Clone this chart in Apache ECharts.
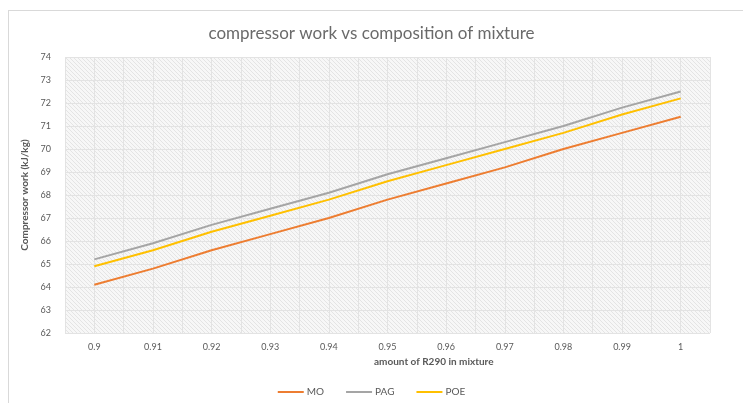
<!DOCTYPE html>
<html>
<head>
<meta charset="utf-8">
<script src="https://cdn.jsdelivr.net/npm/echarts@6/dist/echarts.min.js"></script>
<style>
html,body{margin:0;padding:0;background:#fff;}
#frame{position:absolute;left:8px;top:10px;width:760px;height:420px;border:1px solid #d9d9d9;box-sizing:border-box;}
#chart{position:absolute;left:0;top:0;width:743px;height:403px;}
</style>
</head>
<body>
<div id="frame"></div>
<div id="chart"></div>
<script>
const categories = ['0.9','0.91','0.92','0.93','0.94','0.95','0.96','0.97','0.98','0.99','1'];
const moValues  = [64.1, 64.8, 65.6, 66.3, 67.0, 67.8, 68.5, 69.2, 70.0, 70.7, 71.4];
const pagValues = [65.2, 65.9, 66.7, 67.4, 68.1, 68.9, 69.6, 70.3, 71.0, 71.8, 72.5];
const poeValues = [64.9, 65.6, 66.4, 67.1, 67.8, 68.6, 69.3, 70.0, 70.7, 71.5, 72.2];
const seriesNames = ['MO','PAG','POE'];
const seriesColors = ['#ED7D31','#A5A5A5','#FFC000'];

// hatch pattern
const pc = document.createElement('canvas');
pc.width = 4; pc.height = 4;
const pctx = pc.getContext('2d');
pctx.fillStyle = '#f7f7f7';
pctx.fillRect(0,0,4,4);
pctx.fillStyle = '#e4e4e4';
for (let i=0;i<4;i++){ pctx.fillRect(i,i,1,1); }

// half-step boundaries for vertical gridlines
const halfCats = [];
categories.forEach(c => { halfCats.push(c + 'a'); halfCats.push(c + 'b'); });

const chart = echarts.init(document.getElementById('chart'));
const font = 'Lato, "Open Sans", sans-serif';
chart.setOption({
  animation: false,
  textStyle: {fontFamily: font},
  title: {
    text: 'compressor work vs composition of mixture',
    left: 'center', top: 20,
    textStyle: {fontFamily: font, fontSize: 17, fontWeight: 'normal', color: '#6a6a6a'}
  },
  grid: {
    left: 65, right: 33, top: 57, bottom: 70,
    show: true, borderWidth: 0,
    backgroundColor: {image: pc, repeat: 'repeat'}
  },
  legend: {
    bottom: 1, left: 'center',
    itemWidth: 26, itemHeight: 2, itemGap: 22,
    icon: 'rect',
    textStyle: {fontFamily: font, fontSize: 10, color: '#595959', padding: [0,0,0,-2]},
    data: seriesNames
  },
  xAxis: [{
    type: 'category', data: categories, boundaryGap: true,
    axisLine: {show: false}, axisTick: {show: false},
    axisLabel: {fontSize: 9, color: '#595959', margin: 10},
    splitLine: {show: false}
  },{
    type: 'category', data: halfCats, boundaryGap: true, show: true,
    position: 'bottom',
    axisLine: {show: false}, axisTick: {show: false}, axisLabel: {show: false},
    splitLine: {show: true, interval: 0, lineStyle: {color: '#e3e3e3', width: 1}}
  }],
  yAxis: {
    type: 'value', min: 62, max: 74, interval: 1,
    name: 'Compressor work (kJ/kg)', nameLocation: 'middle', nameGap: 19,
    nameTextStyle: {fontFamily: font, fontSize: 10, fontWeight: 'bold', color: '#595959'},
    axisLine: {show: false}, axisTick: {show: false},
    axisLabel: {fontSize: 9, color: '#595959', margin: 14},
    splitLine: {lineStyle: {color: '#e3e3e3', width: 1}}
  },
  graphic: [{
    type: 'text', left: 374, top: 357,
    style: {text: 'amount of R290 in mixture', font: 'bold 10px ' + font, fill: '#595959'}
  }],
  series: [moValues, pagValues, poeValues].map((d, i) => ({
    name: seriesNames[i], type: 'line', data: d, xAxisIndex: 0,
    showSymbol: false, symbol: 'none',
    lineStyle: {width: 2, color: seriesColors[i]},
    itemStyle: {color: seriesColors[i]}
  }))
});
</script>
</body>
</html>
